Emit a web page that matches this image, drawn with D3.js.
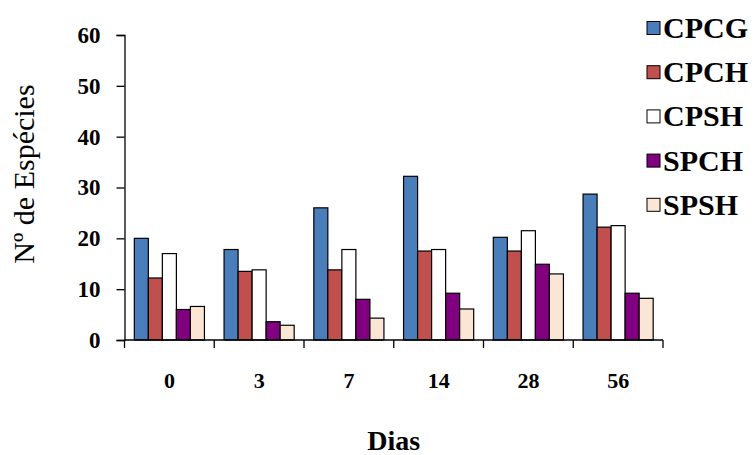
<!DOCTYPE html>
<html>
<head>
<meta charset="utf-8">
<script src="https://cdn.jsdelivr.net/npm/d3@7"></script>
<style>
  html, body { margin: 0; padding: 0; background: #fff; }
  svg { display: block; }
  text { font-family: "Liberation Serif", "Times New Roman", serif; fill: #000; }
</style>
</head>
<body>
<svg id="chart" width="756" height="455"></svg>
<script>
// Species counts per sampling day for each treatment
const days = ["0", "3", "7", "14", "28", "56"];
const seriesNames = ["CPCG", "CPCH", "CPSH", "SPCH", "SPSH"];
const CPCG = [20, 17.8, 26, 32.2, 20.2, 28.7];
const CPCH = [12.2, 13.5, 13.8, 17.5, 17.5, 22.2];
const CPSH = [17, 13.8, 17.8, 17.8, 21.5, 22.5];
const SPCH = [6, 3.6, 8, 9.2, 14.9, 9.2];
const SPSH = [6.6, 2.9, 4.3, 6.1, 13, 8.2];
const yTicks = [0, 10, 20, 30, 40, 50, 60];
const seriesColors = ["#4a7ebb", "#c0504d", "#ffffff", "#800080", "#fbe6d6"];

const values = [CPCG, CPCH, CPSH, SPCH, SPSH];
const rows = days.map((d, i) => ({
  day: d,
  items: seriesNames.map((s, j) => ({ key: s, value: values[j][i] }))
}));

const svg = d3.select("#chart");
const plot = { left: 124.5, right: 663, top: 35, bottom: 340 };

const x0 = d3.scaleBand().domain(days).range([plot.left, plot.right]).padding(0);
const x1 = d3.scaleBand().domain(seriesNames).range([0, x0.bandwidth()])
  .paddingInner(0).paddingOuter(0.7);
const y = d3.scaleLinear().domain([0, 60]).range([plot.bottom, plot.top]);
const color = d3.scaleOrdinal().domain(seriesNames).range(seriesColors);

// Bars
svg.append("g")
  .selectAll("g")
  .data(rows)
  .join("g")
  .attr("transform", d => `translate(${x0(d.day)},0)`)
  .selectAll("rect")
  .data(d => d.items)
  .join("rect")
  .attr("x", d => x1(d.key))
  .attr("y", d => y(d.value))
  .attr("width", x1.bandwidth())
  .attr("height", d => y(0) - y(d.value))
  .attr("fill", d => color(d.key))
  .attr("stroke", "#000")
  .attr("stroke-width", 1.2);

// Y axis
const yAxis = svg.append("g")
  .attr("transform", `translate(${plot.left},0)`)
  .call(d3.axisLeft(y).tickValues(yTicks).tickSize(8).tickPadding(16));
yAxis.select(".domain").attr("stroke", "#000").attr("stroke-width", 1.3);
yAxis.selectAll(".tick line").attr("stroke", "#000").attr("stroke-width", 1.3);
yAxis.selectAll(".tick text")
  .attr("font-size", 23).attr("font-weight", "bold");

// X axis with ticks on the category boundaries
const boundaries = days.map(d => x0(d)).concat([plot.right]);
const xAxisG = svg.append("g");
xAxisG.append("line")
  .attr("x1", plot.left).attr("x2", plot.right)
  .attr("y1", y(0)).attr("y2", y(0))
  .attr("stroke", "#000").attr("stroke-width", 1.3);
xAxisG.selectAll("line.tick")
  .data(boundaries)
  .join("line")
  .attr("class", "tick")
  .attr("x1", d => d).attr("x2", d => d)
  .attr("y1", y(0)).attr("y2", y(0) + 8)
  .attr("stroke", "#000").attr("stroke-width", 1.3);
xAxisG.selectAll("text")
  .data(days)
  .join("text")
  .attr("x", d => x0(d) + x0.bandwidth() / 2)
  .attr("y", 388)
  .attr("text-anchor", "middle")
  .attr("font-size", 22).attr("font-weight", "bold")
  .text(d => d);

// Axis titles
svg.append("text")
  .attr("x", (plot.left + plot.right) / 2)
  .attr("y", 450)
  .attr("text-anchor", "middle")
  .attr("font-size", 28).attr("font-weight", "bold")
  .text("Dias");

svg.append("text")
  .attr("transform", "translate(34,174) rotate(-90)")
  .attr("text-anchor", "middle")
  .attr("font-size", 30)
  .text("Nº de Espécies");

// Legend
const legend = svg.append("g")
  .selectAll("g")
  .data(seriesNames)
  .join("g")
  .attr("transform", (d, i) => `translate(647,${28 + i * 44.2})`);
legend.append("rect")
  .attr("x", 0).attr("y", -6.5)
  .attr("width", 13).attr("height", 13)
  .attr("fill", d => color(d))
  .attr("stroke", "#000").attr("stroke-width", 1);
legend.append("text")
  .attr("x", 16).attr("y", 10)
  .attr("font-size", 30).attr("font-weight", "bold")
  .text(d => d);
</script>
</body>
</html>
